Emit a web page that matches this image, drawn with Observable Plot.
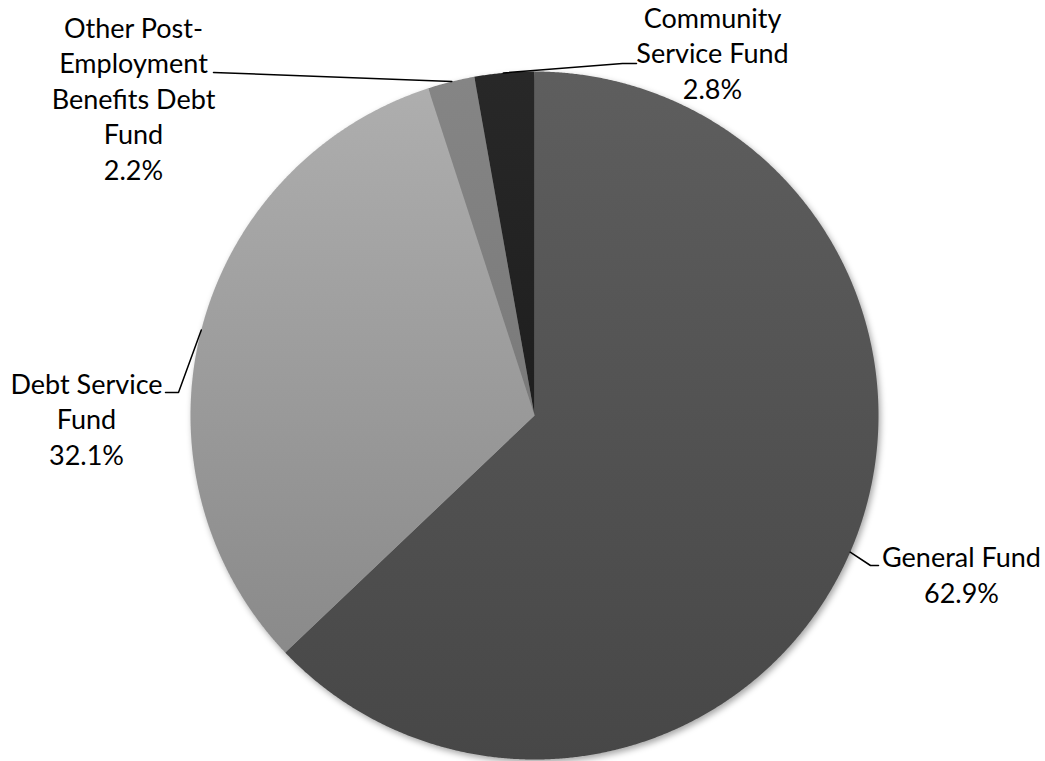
<!DOCTYPE html>
<html>
<head>
<meta charset="utf-8">
<script src="https://cdn.jsdelivr.net/npm/d3@7"></script>
<script src="https://cdn.jsdelivr.net/npm/@observablehq/plot@0.6"></script>
<style>
  html, body { margin: 0; padding: 0; background: #fff; }
  #chart svg { display: block; }
</style>
</head>
<body>
<div id="chart"></div>
<script>
// ---- Data ----
const categories = ["General Fund", "Debt Service Fund", "Other Post-Employment Benefits Debt Fund", "Community Service Fund"];
const shares = [62.9, 32.1, 2.2, 2.8];
const labelNames = [["General Fund"], ["Debt Service", "Fund"], ["Other Post-", "Employment", "Benefits Debt", "Fund"], ["Community", "Service Fund"]];
const colorTop = ["#5e5e5e", "#aeaeae", "#858585", "#282828"];
const colorBottom = ["#474747", "#8a8a8a", "#7a7a7a", "#1e1e1e"];

// ---- Layout ----
const W = 1045, H = 761;
const cx = 534, cy = 415, R = 344;
const fontSize = 27, lineH = 35.5;
// leader: start angle (deg, clockwise from 12 o'clock) on rim, elbow, end; label anchor (center x, last baseline y)
const layout = [
  { start: 113.4, elbow: [870, 565], end: [878, 565], lx: 961, ly: 602 },
  { start: 284.4, elbow: [178, 392], end: [165, 392], lx: 86, ly: 464 },
  { start: 346.1, elbow: [213, 72], end: [213, 72], lx: 133, ly: 179 },
  { start: 354.8, elbow: [622, 63], end: [636, 63], lx: 712, ly: 98 }
];

const rad = d => d * Math.PI / 180;
const polar = (deg, r) => [cx + r * Math.sin(rad(deg)), cy - r * Math.cos(rad(deg))];

// slice polygons computed from the shares
const total = d3.sum(shares);
let acc = 0;
const slices = shares.map((v, i) => {
  const a0 = acc / total * 360;
  acc += v;
  const a1 = acc / total * 360;
  const pts = [{ i, x: cx, y: cy }];
  const n = Math.max(2, Math.ceil((a1 - a0) / 0.25));
  for (let k = 0; k <= n; k++) {
    const [x, y] = polar(a0 + (a1 - a0) * k / n, R);
    pts.push({ i, x, y });
  }
  pts.push({ i, x: cx, y: cy });
  return pts;
});

const leaders = layout.map((L, i) => {
  const [sx, sy] = polar(L.start, R);
  return [{ i, x: sx, y: sy }, { i, x: L.elbow[0], y: L.elbow[1] }, { i, x: L.end[0], y: L.end[1] }];
}).flat();

const labels = categories.map((c, i) => ({
  text: [...labelNames[i], `${shares[i].toFixed(1)}%`].join("\n"),
  x: layout[i].lx, y: layout[i].ly
}));

const plot = Plot.plot({
  width: W, height: H,
  margin: 0,
  x: { domain: [0, W], range: [0, W], axis: null },
  y: { domain: [0, H], range: [0, H], axis: null },
  style: { fontFamily: "Lato, 'Noto Sans', sans-serif", background: "#fff" },
  marks: [
    ...slices.map((pts, i) => Plot.line(pts, {
      x: "x", y: "y", fill: `url(#grad${i})`, stroke: "none", curve: "linear", className: "slice"
    })),
    Plot.line(leaders, { x: "x", y: "y", z: "i", stroke: "#000", strokeWidth: 1.5 }),
    Plot.text(labels, {
      x: "x", y: "y", text: "text", textAnchor: "middle", lineAnchor: "bottom",
      lineHeight: lineH / fontSize, fontSize, fill: "#000"
    })
  ]
});

// gradient defs + shadow wrapper
const ns = "http://www.w3.org/2000/svg";
const defs = document.createElementNS(ns, "defs");
colorTop.forEach((c, i) => {
  const g = document.createElementNS(ns, "linearGradient");
  g.setAttribute("id", `grad${i}`);
  g.setAttribute("x1", "0"); g.setAttribute("y1", "0");
  g.setAttribute("x2", "0"); g.setAttribute("y2", "1");
  [[0, c], [1, colorBottom[i]]].forEach(([o, col]) => {
    const s = document.createElementNS(ns, "stop");
    s.setAttribute("offset", o);
    s.setAttribute("stop-color", col);
    g.appendChild(s);
  });
  defs.appendChild(g);
});
plot.insertBefore(defs, plot.firstChild);
const sliceGroups = plot.querySelectorAll(".slice");
if (sliceGroups.length) {
  const wrap = document.createElementNS(ns, "g");
  wrap.setAttribute("style", "filter: drop-shadow(2px 3px 3px rgba(0,0,0,0.35))");
  sliceGroups[0].parentNode.insertBefore(wrap, sliceGroups[0]);
  sliceGroups.forEach(g => wrap.appendChild(g));
}
document.getElementById("chart").appendChild(plot);
</script>
</body>
</html>
